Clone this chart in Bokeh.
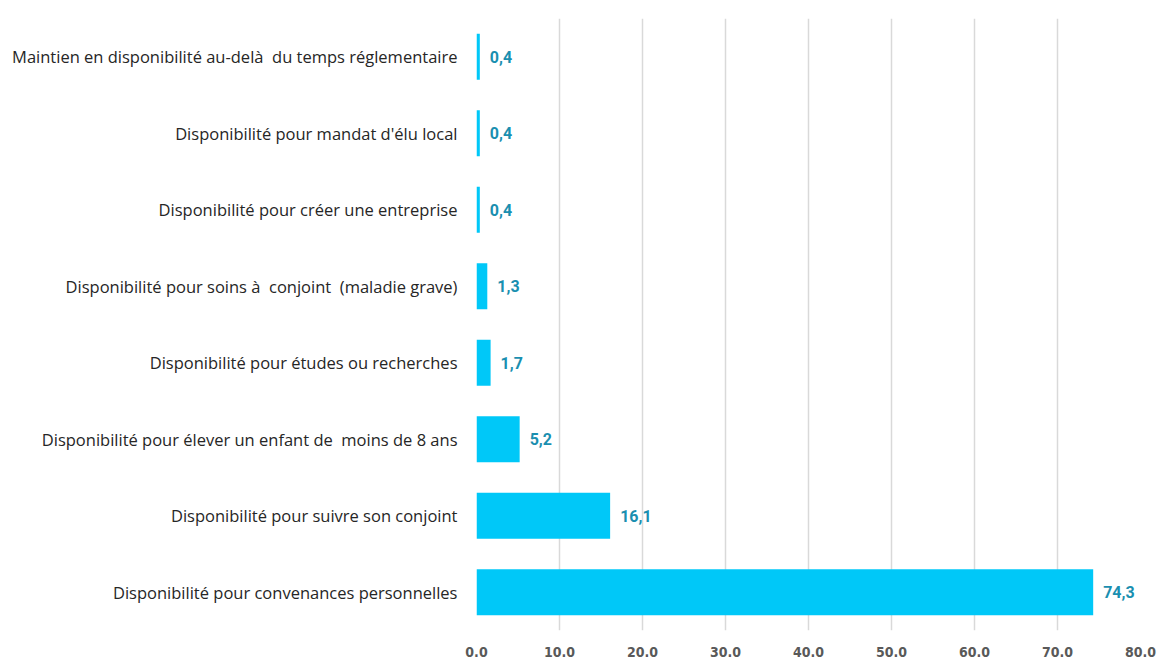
from bokeh.plotting import figure
from bokeh.models import ColumnDataSource, FactorRange, Range1d, FixedTicker, NumeralTickFormatter
from bokeh.core.properties import value
from bokeh.embed import file_html
from bokeh.resources import INLINE

categories = [
    "Maintien en disponibilité au-delà \u00a0du temps réglementaire",
    "Disponibilité pour mandat d'élu local",
    "Disponibilité pour créer une entreprise",
    "Disponibilité pour soins à \u00a0conjoint \u00a0(maladie grave)",
    "Disponibilité pour études ou recherches",
    "Disponibilité pour élever un enfant de \u00a0moins de 8 ans",
    "Disponibilité pour suivre son conjoint",
    "Disponibilité pour convenances personnelles",
]
values = [0.4, 0.4, 0.4, 1.3, 1.7, 5.2, 16.1, 74.3]
x_ticks = [0, 10, 20, 30, 40, 50, 60, 70, 80]

labels = [f"{v:.1f}".replace(".", ",") for v in values]
src = ColumnDataSource(dict(cat=categories, val=values, lab=labels))

p = figure(
    y_range=FactorRange(*reversed(categories), range_padding=0),
    x_range=Range1d(0, 80),
    width=1157, height=659,
    output_backend="svg", toolbar_location=None,
    min_border_left=476, min_border_right=17, min_border_top=18, min_border_bottom=27,
)
p.outline_line_color = None
p.background_fill_color = "white"

p.hbar(y="cat", right="val", left=0, height=0.6, source=src, color="#00C8F8", line_color=None)
p.text(x="val", y="cat", text="lab", source=src, x_offset=10, text_baseline="middle",
       text_align="left", text_font=value("Roboto"), text_font_style="bold",
       text_font_size="16px", text_color="#1A8FB0")

p.xaxis.ticker = FixedTicker(ticks=x_ticks)
p.xaxis.formatter = NumeralTickFormatter(format="0.0")
p.xaxis.axis_line_color = None
p.xaxis.major_tick_line_color = None
p.xaxis.minor_tick_line_color = None
p.xaxis.major_label_standoff = 10
p.xaxis.major_label_text_font = "DejaVu Sans Condensed, Roboto, sans-serif"
p.xaxis.major_label_text_font_style = "bold"
p.xaxis.major_label_text_font_size = "14px"
p.xaxis.major_label_text_color = "#595959"

p.yaxis.axis_line_color = None
p.yaxis.major_tick_line_color = None
p.yaxis.minor_tick_line_color = None
p.yaxis.major_label_standoff = 13
p.yaxis.major_label_text_font = "Open Sans"
p.yaxis.major_label_text_font_size = "16.5px"
p.yaxis.major_label_text_color = "#262626"

p.xgrid.grid_line_color = "#D9D9D9"
p.xgrid.grid_line_width = 1.5
p.ygrid.grid_line_color = None

open("out.html", "w").write(file_html(p, INLINE))
